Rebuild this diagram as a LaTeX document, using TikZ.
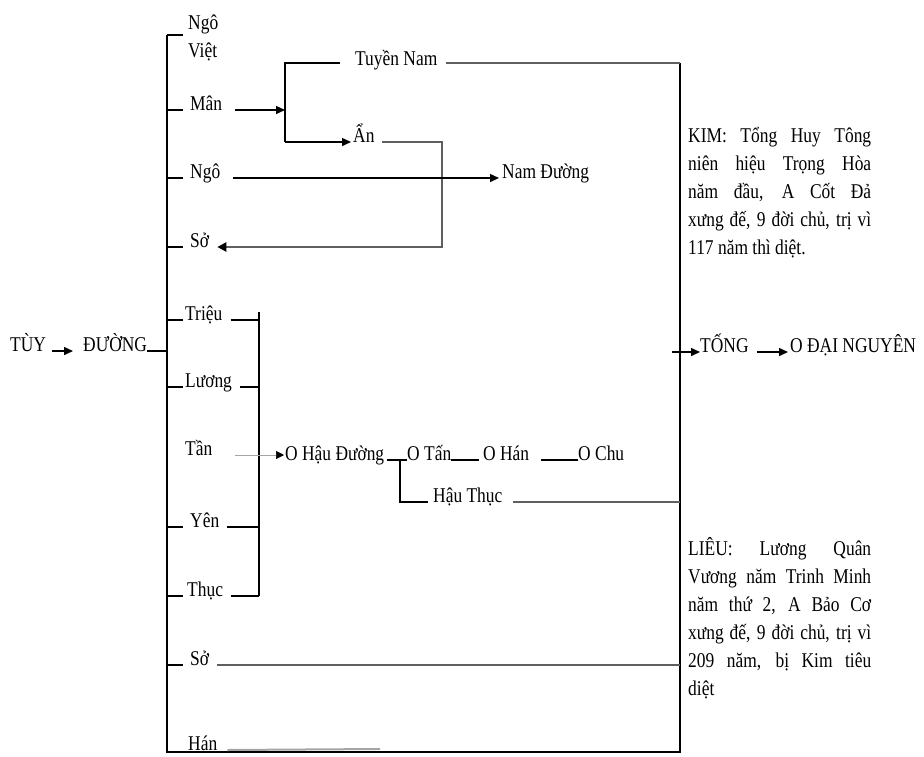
\documentclass[tikz,border=0pt]{standalone}
\usepackage{fontspec}
\setmainfont{Liberation Serif}[FakeStretch=0.83]
\usetikzlibrary{arrows.meta,calc,positioning}
\definecolor{dgray}{RGB}{95,95,95}
\definecolor{lgray}{RGB}{165,165,165}

\begin{document}
\begin{tikzpicture}[x=1pt,y=-1pt,
    font=\fontsize{21}{28}\selectfont,
    lbl/.style={anchor=base west, inner sep=0pt},
    note/.style={anchor=north west, inner sep=0pt, text width=183pt, align=justify},
    link/.style={line width=1.3pt},
    glink/.style={line width=2.2pt, draw=dgray},
    arr/.style={line width=1.4pt, -{Triangle[length=9pt,width=8pt]}}
  ]
  \useasboundingbox (0,0) rectangle (924,756);

  % frame of the five dynasties
  \coordinate (lt) at (167,35);
  \coordinate (lb) at (167,752);
  \coordinate (rt) at (680,63);
  \coordinate (rb) at (680,752);
  \draw[link] (lt) -- (lb) -- (rb) -- (rt);

  % Tuy -> Duong
  \node[lbl] (tuy) at (10,351) {TÙY};
  \node[lbl] (duong) at (83,351) {ĐƯỜNG};
  \draw[arr] ([xshift=6pt]tuy.base east) -- ([xshift=-10pt]duong.base west);
  \draw[link] (duong.base east) -- (lt |- duong.base);

  % upper branches
  \node[anchor=west, inner sep=0pt, align=left] (ngoviet) at (188,38) {Ngô\\Việt};
  \node[lbl] (man) at (190,110) {Mân};
  \node[lbl] (ngo) at (190,178) {Ngô};
  \node[lbl] (so1) at (190,247) {Sở};
  \draw[link] (lt) -- ++(16,0);
  \foreach \n in {man,ngo,so1}
    \draw[link] (lt |- \n.base) -- ++(16,0);

  \node[lbl] (tuyen) at (355,65) {Tuyền Nam};
  \node[lbl] (an) at (353,142) {Ẩn};
  \coordinate (fork) at (285,63);
  \draw[arr] ([xshift=13pt]man.base east) -- (fork |- man.base);
  \draw[link] ([xshift=-15pt]tuyen.west |- fork) -- (fork) -- (fork |- an.base);
  \draw[arr] (fork |- an.base) -- ([xshift=-2pt]an.base west);
  \draw[glink] ([xshift=8pt]tuyen.east |- rt) -- (rt);

  \coordinate (anr) at (442,143);
  \draw[glink, -{Triangle[length=9pt,width=9pt,color=black]}] ([xshift=7pt]an.base east)
    -- (anr |- an.base) -- (anr |- so1.base) -- ([xshift=8pt]so1.base east);

  \node[lbl] (namd) at (502,178) {Nam Đường};
  \draw[arr] ([xshift=13pt]ngo.base east) -- ([xshift=-3pt]namd.base west);

  % Kim note
  \node[note] (kim) at (688,127) {KIM: Tổng Huy Tông\linebreak
    niên hiệu Trọng Hòa\linebreak
    năm đầu, A Cốt Đả\linebreak
    xưng đế, 9 đời chủ, trị vì\linebreak
    117 năm thì diệt.};

  % middle branches
  \node[lbl] (trieu) at (185,320) {Triệu};
  \node[lbl] (luong) at (185,387) {Lương};
  \node[lbl] (tan) at (185,455) {Tần};
  \node[lbl] (yen) at (190,527) {Yên};
  \node[lbl] (thuc) at (187,596) {Thục};
  \node[lbl] (so2) at (190,665) {Sở};
  \node[lbl] (han) at (188,750) {Hán};
  \foreach \n in {trieu,luong,yen,thuc,so2}
    \draw[link] (lt |- \n.base) -- ++(16,0);

  \coordinate (ibar) at (259,312);
  \draw[line width=2pt] (ibar) -- (ibar |- thuc.base);
  \foreach \n in {trieu,luong,yen,thuc}
    \draw[link] ([xshift=8pt]\n.base east) -- (ibar |- \n.base);

  \node[lbl] (hdu) at (285,460) {O Hậu Đường};
  \node[lbl] (otan) at (407,460) {O Tấn};
  \node[lbl] (ohan) at (483,460) {O Hán};
  \node[lbl] (ochu) at (578,460) {O Chu};
  \node[lbl] (hthuc) at (433,502) {Hậu Thục};
  \draw[line width=0.6pt, draw=lgray, -{Triangle[length=8pt,width=8pt,color=black]}]
    ([xshift=22pt]tan.base east) -- ([xshift=-1pt]tan.base -| hdu.west);
  \coordinate (hfork) at (400,460);
  \draw[link] ([xshift=3pt]hdu.base east) -- (otan.base west);
  \draw[link] (hfork) -- (hfork |- hthuc.base) -- ([xshift=-5pt]hthuc.base west);
  \draw[link] (otan.base east) -- ([xshift=-4pt]ohan.base west);
  \draw[link] ([xshift=12pt]ohan.base east) -- (ochu.base west);
  \draw[glink] ([xshift=10pt]hthuc.base east) -- (rt |- hthuc.base);

  % lower branches
  \draw[glink] ([xshift=8pt]so2.base east) -- (rt |- so2.base);
  \coordinate (hanend) at (380,749);
  \draw[line width=2pt, draw=lgray] ([xshift=10pt]han.base east) -- (hanend);

  % Tong -> Nguyen
  \node[lbl] (tong) at (700,352) {TỐNG};
  \node[lbl] (dng) at (790,352) {O ĐẠI NGUYÊN};
  \draw[arr] ([xshift=-8pt]rt |- tong.base) -- (tong.base west);
  \draw[arr] ([xshift=8pt]tong.base east) -- ([xshift=-2pt]dng.base west);

  % Lieu note
  \node[note] (lieu) at (688,537) {LIÊU: Lương Quân\linebreak
    Vương năm Trinh Minh\linebreak
    năm thứ 2, A Bảo Cơ\linebreak
    xưng đế, 9 đời chủ, trị vì\linebreak
    209 năm, bị Kim tiêu\linebreak
    diệt};
\end{tikzpicture}
\end{document}
